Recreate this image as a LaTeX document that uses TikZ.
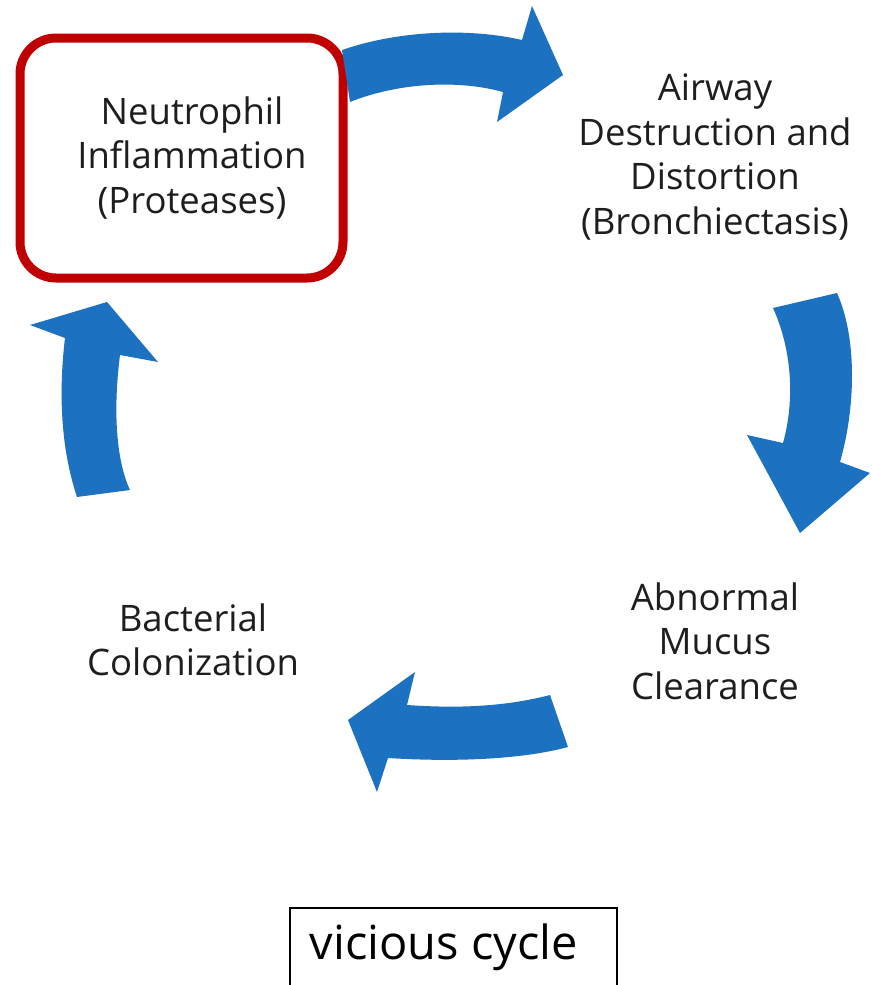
\documentclass[tikz,border=0pt]{standalone}
\usepackage{fontspec}
\setmainfont{Open Sans}
\definecolor{cycleblue}{RGB}{28,114,192}
\definecolor{boxred}{RGB}{192,0,0}
\definecolor{txt}{RGB}{30,30,30}
\begin{document}
\begin{tikzpicture}[x=1pt,y=-1pt,
  lbl/.style={align=center,text=txt,font=\fontsize{36.5}{44.5}\selectfont},
  blockarrow/.style={fill=cycleblue}]
\useasboundingbox (0,0) rectangle (871,985);

% highlighted stage
\draw[boxred,line width=9pt,rounded corners=36pt] (20,38) rectangle (343,278);

% stage labels
\node[lbl] (neu) at (192,158) {Neutrophil\\Inflammation\\(Proteases)};
\node[lbl] (air) at (715,157) {Airway\\Destruction and\\Distortion\\(Bronchiectasis)};
\node[lbl] (muc) at (715,641) {Abnormal\\Mucus\\Clearance};
\node[lbl] (bac) at (193,640) {Bacterial\\Colonization};

% curved block arrows
\fill[blockarrow] (342,50) .. controls (400,30) and (470,28) .. (522,40)
  -- (532,6) -- (563,75) -- (497,122) -- (503,92)
  .. controls (460,80) and (400,82) .. (350,102) -- cycle;
\fill[blockarrow] (773,308) -- (837,293)
  .. controls (858,340) and (855,410) .. (840,462)
  -- (870,473) -- (800,533) -- (747,435) -- (783,443)
  .. controls (795,400) and (792,350) .. (773,308) -- cycle;
\fill[blockarrow] (550,695) .. controls (500,708) and (450,708) .. (407,705)
  -- (415,672) -- (348,720) -- (377,792) -- (388,758)
  .. controls (450,762) and (520,760) .. (568,747) -- cycle;
\fill[blockarrow] (77,497) .. controls (58,440) and (60,380) .. (65,338)
  -- (30,325) -- (107,302) -- (158,362) -- (120,355)
  .. controls (113,410) and (116,460) .. (130,490) -- cycle;

% caption box, open at the bottom edge
\draw[line width=1.6pt] (290,990) -- (290,908) -- (617,908) -- (617,990);
\node[text=black,font=\fontsize{47}{52}\selectfont] (cap) at (444,947) {vicious cycle};
\end{tikzpicture}
\end{document}
